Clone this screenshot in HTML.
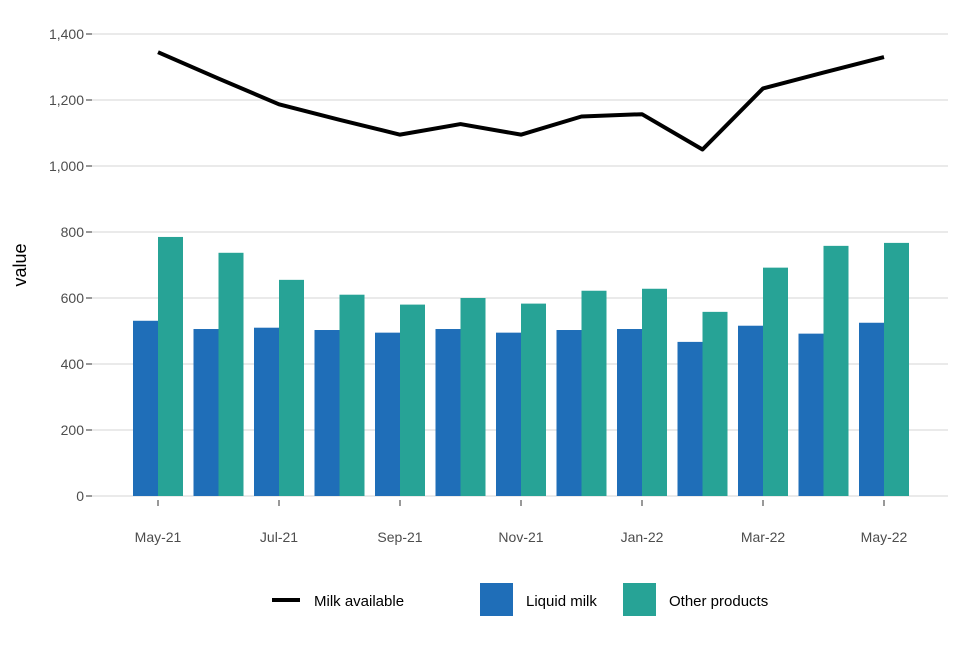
<!DOCTYPE html>
<html><head><meta charset="utf-8"><style>
body{margin:0;background:#fff;font-family:"Liberation Sans",Arial,sans-serif}
</style></head><body>
<svg id="chart" width="960" height="640" xmlns="http://www.w3.org/2000/svg">
<g id="grid"></g><g id="bars"></g><g id="line"></g><g id="axes"></g>
<text x="26" y="265" transform="rotate(-90 26 265)" text-anchor="middle" font-size="18" fill="#000">value</text>
<g>
<line x1="272" y1="600" x2="300" y2="600" stroke="#000" stroke-width="4"/>
<text x="314" y="606" font-size="15">Milk available</text>
<rect x="480" y="583" width="33" height="33" fill="#1f6eb8"/>
<text x="526" y="606" font-size="15">Liquid milk</text>
<rect x="623" y="583" width="33" height="33" fill="#27a396"/>
<text x="669" y="606" font-size="15">Other products</text>
</g>
</svg>
<script>
const months=["May-21","Jun-21","Jul-21","Aug-21","Sep-21","Oct-21","Nov-21","Dec-21","Jan-22","Feb-22","Mar-22","Apr-22","May-22"];
const liquid=[531,506,510,503,495,506,495,503,506,467,516,492,525];
const other=[785,737,655,610,580,600,583,622,628,558,692,758,767];
const available=[1345,1265,1187,1140,1095,1127,1095,1150,1157,1050,1235,1283,1330];
const yTicks=[0,200,400,600,800,1000,1200,1400];
const xTickIdx=[0,2,4,6,8,10,12];
const NS="http://www.w3.org/2000/svg";
const y=v=>496-v*0.33;
const x=i=>158+i*60.5;
function mk(t,a,p){const e=document.createElementNS(NS,t);for(const k in a)e.setAttribute(k,a[k]);document.getElementById(p).appendChild(e);return e;}
yTicks.forEach(v=>{
 const g=mk('line',{x1:92,x2:948,y1:y(v),y2:y(v),stroke:'#e3e3e3','stroke-width':1.5},'grid');
 
 
 const tk=mk('line',{x1:86,x2:92,y1:y(v),y2:y(v),stroke:'#333'},'axes');
 
 
 const t=mk('text',{x:84,y:y(v)+5,'text-anchor':'end','font-size':14,fill:'#4d4d4d'},'axes');
 t.textContent=v.toLocaleString('en-US');
 
 
});
xTickIdx.forEach(i=>{
 const tk=mk('line',{x1:x(i),x2:x(i),y1:500,y2:506,stroke:'#333'},'axes');
 
 
 const t=mk('text',{x:x(i),y:542,'text-anchor':'middle','font-size':14,fill:'#4d4d4d'},'axes');
 t.textContent=months[i];
 
 
});
months.forEach((m,i)=>{
 const b1=mk('rect',{x:x(i)-25,y:y(liquid[i]),width:25,height:y(0)-y(liquid[i]),fill:'#1f6eb8'},'bars');
 
 
 const b2=mk('rect',{x:x(i),y:y(other[i]),width:25,height:y(0)-y(other[i]),fill:'#27a396'},'bars');
 
 
});
const p=mk('polyline',{points:available.map((v,i)=>x(i)+','+y(v)).join(' '),fill:'none',stroke:'#000','stroke-width':4,'stroke-linejoin':'round'},'line');


</script>
</body></html>
